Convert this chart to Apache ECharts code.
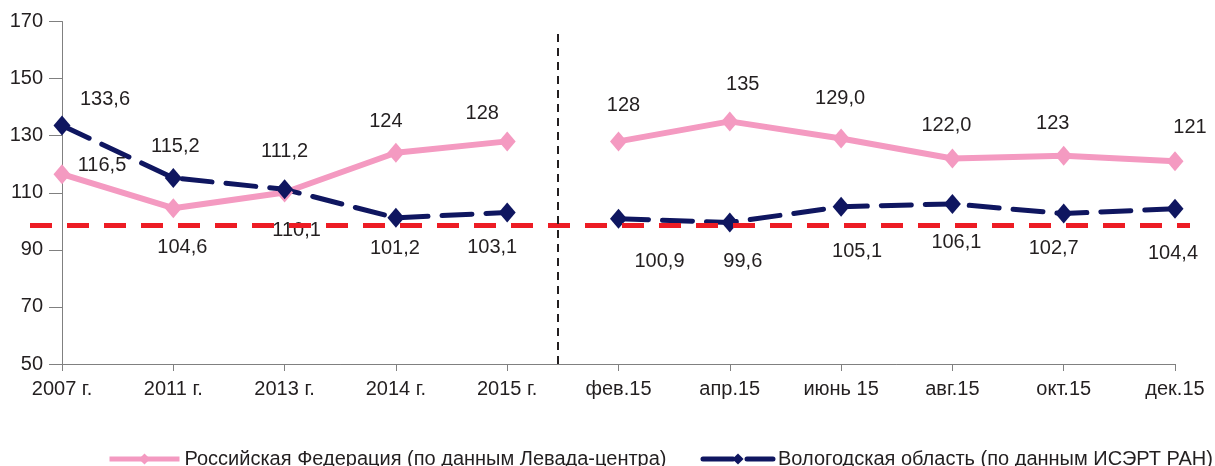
<!DOCTYPE html>
<html>
<head>
<meta charset="utf-8">
<script src="https://cdn.jsdelivr.net/npm/echarts@6/dist/echarts.min.js"></script>
<style>
    html, body {margin: 0; padding: 0; background: #fff;}
    #chart {width: 1215px; height: 466px;}
</style>
</head>
<body>
<div id="chart"></div>
<script>
var categories = ['2007 г.', '2011 г.', '2013 г.', '2014 г.', '2015 г.',
    'фев.15', 'апр.15', 'июнь 15', 'авг.15', 'окт.15', 'дек.15'];

var rfName = 'Российская Федерация (по данным Левада-центра)';
var rfValues = [116.5, 104.6, 110.1, 124, 128, 128, 135, 129.0, 122.0, 123, 121];
var rfLabels = ['116,5', '104,6', '110,1', '124', '128', '128', '135', '129,0', '122,0', '123', '121'];

var voName = 'Вологодская область (по данным ИСЭРТ РАН)';
var voValues = [133.6, 115.2, 111.2, 101.2, 103.1, 100.9, 99.6, 105.1, 106.1, 102.7, 104.4];
var voLabels = ['133,6', '115,2', '111,2', '101,2', '103,1', '100,9', '99,6', '105,1', '106,1', '102,7', '104,4'];

// уровень красной пунктирной линии и положение разделителя (между 2015 г. и фев.15)
var redLevel = 98.7;
var splitPos = 4.45;

// смещения подписей от точек (в пикселях)
var rfOffsets = [[40, -9], [9, 39], [12, 38], [-10, -31], [-25, -28], [5, -36],
    [13, -37], [-1, -40], [-6, -33], [-11, -32], [15, -34]];
var voOffsets = [[43, -26], [2, -31], [0, -38], [-1, 31], [-15, 35], [41, 43],
    [13, 39], [16, 45], [4, 39], [-10, 35], [-2, 45]];

var font = "'Liberation Sans', Arial, sans-serif";
var textColor = '#231F20';
var pink = '#F49AC1';
var navy = '#0F1660';

function segment(values, labels, offsets, from, to) {
    var out = [];
    for (var i = 0; i < values.length; i++) {
        if (i < from || i > to) {
            out.push(null);
            continue;
        }
        out.push({
            value: values[i],
            label: {
                formatter: labels[i],
                offset: offsets[i]
            }
        });
    }
    return out;
}

function makeSeries(name, values, labels, offsets, color, lineStyle, from, to) {
    return {
        name: name,
        type: 'line',
        data: segment(values, labels, offsets, from, to),
        symbol: 'diamond',
        symbolSize: [17, 20],
        itemStyle: {color: color},
        lineStyle: lineStyle,
        label: {
            show: true,
            position: 'inside',
            color: textColor,
            fontSize: 20,
            fontFamily: font
        },
        emphasis: {disabled: true},
        animation: false
    };
}

var rfLine = {color: pink, width: 6};
var voLine = {color: navy, width: 5, type: [30, 14], cap: 'round'};

var dom = document.getElementById('chart');
var myChart = echarts.init(dom);

var option = {
    backgroundColor: '#fff',
    textStyle: {fontFamily: font, color: textColor},
    grid: {left: 62, right: 40, top: 21.5, bottom: 102},
    legend: {
        data: [
            {name: rfName, lineStyle: {width: 5}},
            {name: voName, lineStyle: {width: 5, type: [30, 14]}}
        ],
        left: 107,
        top: 449,
        width: 1108,
        padding: 0,
        itemWidth: 70,
        itemHeight: 14,
        itemGap: 34,
        textStyle: {fontSize: 20, fontFamily: font, color: textColor}
    },
    xAxis: [
        {
            type: 'category',
            data: categories,
            boundaryGap: false,
            axisLine: {lineStyle: {color: '#808080', width: 1}},
            axisTick: {length: 7, lineStyle: {color: '#808080'}},
            axisLabel: {color: textColor, fontSize: 20, fontFamily: font, margin: 15, interval: 0}
        },
        {
            // скрытая ось для вертикального разделителя
            type: 'value',
            min: 0,
            max: categories.length - 1,
            show: false
        }
    ],
    yAxis: {
        type: 'value',
        min: 50,
        max: 170,
        interval: 20,
        axisLine: {show: true, lineStyle: {color: '#808080', width: 1}},
        axisTick: {show: true, length: 13, lineStyle: {color: '#808080'}},
        splitLine: {show: false},
        axisLabel: {color: textColor, fontSize: 20, fontFamily: font, margin: 19}
    },
    series: [
        makeSeries(rfName, rfValues, rfLabels, rfOffsets, pink, rfLine, 0, 4),
        makeSeries(rfName, rfValues, rfLabels, rfOffsets, pink, rfLine, 5, 10),
        makeSeries(voName, voValues, voLabels, voOffsets, navy, voLine, 0, 4),
        makeSeries(voName, voValues, voLabels, voOffsets, navy, voLine, 5, 10),
        {
            type: 'line',
            xAxisIndex: 1,
            data: [],
            silent: true,
            animation: false,
            markLine: {
                silent: true,
                symbol: 'none',
                animation: false,
                label: {show: false},
                emphasis: {disabled: true},
                data: [
                    [
                        {x: 30, yAxis: redLevel, lineStyle: {color: '#ED1C24', width: 5, type: [22, 15]}},
                        {x: 1190, yAxis: redLevel}
                    ],
                    [
                        {xAxis: splitPos, y: 34, lineStyle: {color: textColor, width: 2, type: [8, 6]}},
                        {xAxis: splitPos, yAxis: 50}
                    ]
                ]
            }
        }
    ]
};

myChart.setOption(option);
</script>
</body>
</html>
